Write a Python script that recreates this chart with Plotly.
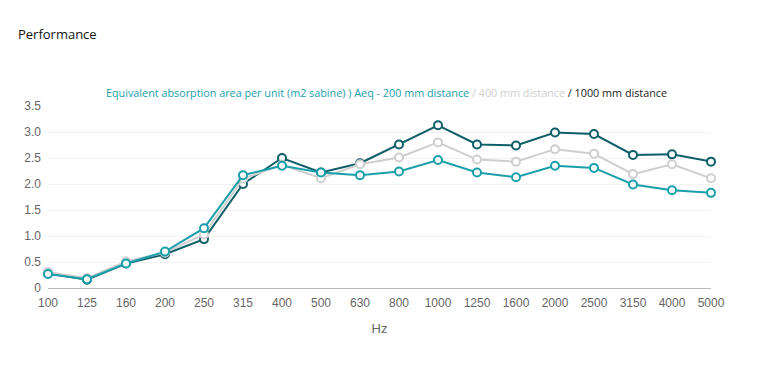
import plotly.graph_objects as go

freqs = ["100", "125", "160", "200", "250", "315", "400", "500", "630", "800",
         "1000", "1250", "1600", "2000", "2500", "3150", "4000", "5000"]
aeq_200 = [0.27, 0.17, 0.47, 0.70, 1.15, 2.17, 2.35, 2.22, 2.17, 2.24,
           2.46, 2.22, 2.13, 2.35, 2.31, 1.99, 1.88, 1.83]
aeq_400 = [0.31, 0.19, 0.51, 0.68, 1.03, 2.10, 2.37, 2.11, 2.38, 2.51,
           2.80, 2.47, 2.43, 2.67, 2.58, 2.19, 2.38, 2.11]
aeq_1000 = [0.28, 0.16, 0.47, 0.65, 0.94, 2.00, 2.50, 2.22, 2.40, 2.76,
            3.13, 2.76, 2.74, 2.99, 2.96, 2.56, 2.57, 2.43]
y_ticks = [0, 0.5, 1.0, 1.5, 2.0, 2.5, 3.0, 3.5]
y_tick_labels = ["0", "0.5", "1.0", "1.5", "2.0", "2.5", "3.0", "3.5"]

c_dark = "#0e5f68"
c_grey = "#cfcfcf"
c_teal = "#1a9fab"

fig = go.Figure()
for name, vals, col in [("1000 mm distance", aeq_1000, c_dark),
                        ("400 mm distance", aeq_400, c_grey),
                        ("200 mm distance", aeq_200, c_teal)]:
    fig.add_trace(go.Scatter(
        x=list(range(len(freqs))), y=vals, name=name, mode="lines+markers",
        line=dict(color=col, width=2),
        marker=dict(symbol="circle", size=8, color="white",
                    line=dict(color=col, width=2)),
        showlegend=False, cliponaxis=False))

fig.add_annotation(
    x=0.5106, y=1.0, xref="paper", yref="paper", yshift=4,
    xanchor="center", yanchor="bottom", showarrow=False,
    text=(f"<span style='color:{c_teal}'>Equivalent absorption area per unit (m2 sabine) ) Aeq - 200 mm distance</span>"
          f"<span style='color:{c_grey}'> / 400 mm distance</span>"
          f"<span style='color:#222222'> / 1000 mm distance</span>"),
    font=dict(family="Open Sans, sans-serif", size=10.8))

tick_font = dict(family="Liberation Sans, Arial, sans-serif", size=12, color="#666666")

fig.update_layout(
    width=766, height=368,
    margin=dict(l=40, r=63, t=98, b=88),
    paper_bgcolor="white", plot_bgcolor="white",
    title=dict(text="Performance", x=0.013, xanchor="left", y=0.929, yanchor="middle",
               font=dict(family="Open Sans, sans-serif", size=13, color="#111111")),
    xaxis=dict(range=[0, len(freqs) - 1], tickmode="array",
               tickvals=list(range(len(freqs))), ticktext=freqs,
               showgrid=False, zeroline=False, showline=False,
               ticks="", ticklabelstandoff=6, tickfont=tick_font,
               title=dict(text="Hz", standoff=14,
                          font=dict(family="Liberation Sans, Arial, sans-serif", size=13, color="#666666"))),
    yaxis=dict(range=[0, 3.5], tickmode="array", tickvals=y_ticks, ticktext=y_tick_labels,
               showgrid=True, gridcolor="#f2f2f2", gridwidth=1,
               zeroline=True, zerolinecolor="#bbbbbb", zerolinewidth=1,
               showline=False, ticks="", ticklabelstandoff=6, tickfont=tick_font),
)

fig.write_html("out.html")
